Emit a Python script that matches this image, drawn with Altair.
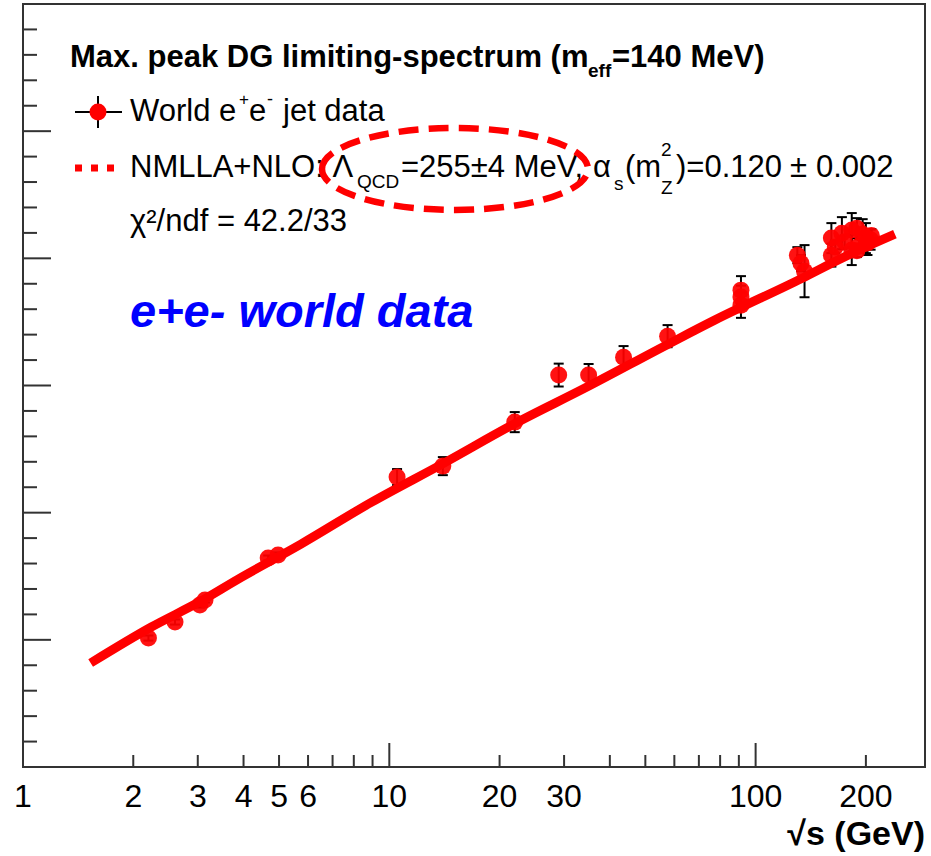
import altair as alt
import pandas as pd

# ---------------- data ----------------
curve_sqrt_s = [1.53, 2.24, 3.06, 3.87, 5.74, 8.95, 14.1, 21.9, 34.2, 59.1, 77.3, 134, 172, 240]
curve_xi = [0.818, 1.101, 1.305, 1.478, 1.753, 2.083, 2.390, 2.697, 2.980, 3.341, 3.514, 3.844, 4.002, 4.190]

data_sqrt_s = [2.2, 2.6, 3.04, 3.14, 4.67, 4.97, 10.5, 14.0, 22.0, 29.0, 35.0, 43.6, 57.5,
               91.2, 91.2, 91.2, 130, 133, 136, 161, 161, 172, 183, 183, 189, 196, 200, 202, 206,
               165, 175, 189, 192, 207]
data_xi = [1.014, 1.140, 1.274, 1.313, 1.643, 1.667, 2.280, 2.366, 2.712, 3.082, 3.082, 3.223, 3.388,
           3.750, 3.695, 3.632, 4.025, 3.962, 3.899, 4.159, 4.025, 4.198, 4.222, 4.065, 4.237, 4.190,
           4.159, 4.120, 4.147, 4.090, 4.130, 4.060, 4.100, 4.180]
data_err = [0.02, 0.02, 0.02, 0.02, 0.02, 0.02, 0.063, 0.071, 0.079, 0.090, 0.087, 0.087, 0.087,
            0.110, 0.090, 0.100, 0.063, 0.063, 0.205, 0.118, 0.090, 0.126, 0.134, 0.118, 0.079, 0.118,
            0.118, 0.094, 0.079, 0.05, 0.05, 0.05, 0.05, 0.05]

x_tick_labels = [1, 2, 3, 4, 5, 6, 10, 20, 30, 100, 200]
x_minor_ticks = [2, 3, 4, 5, 6, 7, 8, 9, 20, 30, 40, 50, 60, 70, 80, 90, 200]
x_major_ticks = [10, 100]
y_minor_ticks = [0.2, 0.4, 0.6, 0.8, 1.2, 1.4, 1.6, 1.8, 2.2, 2.4, 2.6, 2.8,
                 3.2, 3.4, 3.6, 3.8, 4.2, 4.4, 4.6, 4.8, 5.2, 5.4, 5.6, 5.8]
y_major_ticks = [1, 2, 3, 4, 5]

# ---------------- layout ----------------
L, T = 23, 4
W, H = 902, 763
FONT = "Liberation Sans"

xs = alt.Scale(type="log", domain=[1, 290], nice=False)
ys = alt.Scale(domain=[0, 6], nice=False, zero=False)

curve_df = pd.DataFrame({"s": curve_sqrt_s, "xi": curve_xi})
pts_df = pd.DataFrame({"s": data_sqrt_s, "xi": data_xi, "err": data_err})
pts_df["lo"] = pts_df["xi"] - pts_df["err"]
pts_df["hi"] = pts_df["xi"] + pts_df["err"]

X = alt.X("s:Q", scale=xs, axis=None)

stems = alt.Chart(pts_df).mark_rule(color="black", strokeWidth=2).encode(
    x=X, y=alt.Y("lo:Q", scale=ys, axis=None), y2="hi:Q")
caps_hi = alt.Chart(pts_df).mark_rule(color="black", strokeWidth=2, xOffset=-5, x2Offset=5).encode(
    x=X, x2="s:Q", y=alt.Y("hi:Q", scale=ys, axis=None))
caps_lo = alt.Chart(pts_df).mark_rule(color="black", strokeWidth=2, xOffset=-5, x2Offset=5).encode(
    x=X, x2="s:Q", y=alt.Y("lo:Q", scale=ys, axis=None))

curve = alt.Chart(curve_df).mark_line(color="#ff0000", strokeWidth=9, strokeCap="butt",
                                      interpolate="monotone").encode(
    x=X, y=alt.Y("xi:Q", scale=ys, axis=None))

points = alt.Chart(pts_df).mark_circle(color="#ff0000", size=289, opacity=0.93).encode(
    x=X, y=alt.Y("xi:Q", scale=ys, axis=None))

# ticks (inside, ROOT style)
xmin_df = pd.DataFrame({"s": x_minor_ticks})
xmaj_df = pd.DataFrame({"s": x_major_ticks})
ymin_df = pd.DataFrame({"v": y_minor_ticks})
ymaj_df = pd.DataFrame({"v": y_major_ticks})
tick_col = "#333333"
xt_min = alt.Chart(xmin_df).mark_rule(color=tick_col, strokeWidth=2).encode(
    x=X, y=alt.value(H), y2=alt.value(H - 12))
xt_maj = alt.Chart(xmaj_df).mark_rule(color=tick_col, strokeWidth=2).encode(
    x=X, y=alt.value(H), y2=alt.value(H - 24))
yt_min = alt.Chart(ymin_df).mark_rule(color=tick_col, strokeWidth=2).encode(
    y=alt.Y("v:Q", scale=ys, axis=None), x=alt.value(0), x2=alt.value(14))
yt_maj = alt.Chart(ymaj_df).mark_rule(color=tick_col, strokeWidth=2).encode(
    y=alt.Y("v:Q", scale=ys, axis=None), x=alt.value(0), x2=alt.value(28))

xlab_df = pd.DataFrame({"s": x_tick_labels, "lab": [str(v) for v in x_tick_labels]})
xlabels = alt.Chart(xlab_df).mark_text(font=FONT, fontSize=32, color="black",
                                       baseline="middle", align="center").encode(
    x=X, y=alt.value(797 - T), text="lab:N")

one = alt.Data(values=[{"a": 1}])


def txt(text, x, y, size=31, bold=False, italic=False, color="black", align="left"):
    return alt.Chart(one).mark_text(
        text=text, font=FONT, fontSize=size, fontWeight="bold" if bold else "normal",
        fontStyle="italic" if italic else "normal", color=color, align=align,
        baseline="middle").encode(x=alt.value(x - L), y=alt.value(y - T))


annotations = [
    txt("Max. peak DG limiting-spectrum (m", 70, 58, 31, bold=True),
    txt("eff", 588, 71, 19, bold=True),
    txt("=140 MeV)", 612, 58, 31, bold=True),
    txt("World e", 130, 112),
    txt("+", 239, 100, 17),
    txt("e", 249, 112),
    txt("-", 267, 100, 18),
    txt("jet data", 283, 112),
    txt("NMLLA+NLO: \u039b", 130, 168),
    txt("QCD", 357, 182, 19),
    txt("=255\u00b14 MeV,", 401, 168),
    txt("\u03b1", 593, 168),
    txt("s", 614, 184, 19),
    txt("(m", 625, 168),
    txt("2", 661, 150, 19),
    txt("Z", 661, 188, 19),
    txt(")=0.120", 676, 168),
    txt("\u00b1", 790, 168),
    txt("0.002", 816, 168),
    txt("\u03c7\u00b2/ndf = 42.2/33", 130, 222),
    txt("e+e- world data", 130, 313, 47, bold=True, italic=True, color="#0000ff"),
    txt("\u221as (GeV)", 925, 835, 34, bold=True, align="right"),
]

# legend markers
leg_h = alt.Chart(one).mark_rule(color="black", strokeWidth=2).encode(
    x=alt.value(75 - L), x2=alt.value(122 - L), y=alt.value(112 - T))
leg_v = alt.Chart(one).mark_rule(color="black", strokeWidth=2).encode(
    x=alt.value(98 - L), y=alt.value(96 - T), y2=alt.value(128 - T))
leg_c = alt.Chart(one).mark_circle(color="#ff0000", size=289, opacity=1).encode(
    x=alt.value(98 - L), y=alt.value(112 - T))
leg_d = alt.Chart(one).mark_rule(color="#ff0000", strokeWidth=7, strokeDash=[7, 9]).encode(
    x=alt.value(75 - L), x2=alt.value(121 - L), y=alt.value(168 - T))

ellipse = alt.Chart(one).mark_point(
    shape="M -1 0 A 1 0.308 0 1 1 1 0 A 1 0.308 0 1 1 -1 0 Z",
    size=266 * 266, filled=False, stroke="#ff0000", strokeWidth=6.5,
    strokeDash=[20, 10], opacity=1).encode(x=alt.value(455 - L), y=alt.value(169 - T))

chart = alt.layer(
    stems, caps_hi, caps_lo, curve, points,
    xt_min, xt_maj, yt_min, yt_maj, xlabels,
    leg_h, leg_v, leg_c, leg_d, *annotations, ellipse,
).properties(
    width=W, height=H,
    padding={"left": L, "top": T, "right": 931 - L - W, "bottom": 856 - T - H},
    autosize=alt.AutoSizeParams(type="none"),
    background="white",
).configure_view(stroke="#333333", strokeWidth=2)

chart.save("out.html", embed_options={"renderer": "svg", "actions": False})
